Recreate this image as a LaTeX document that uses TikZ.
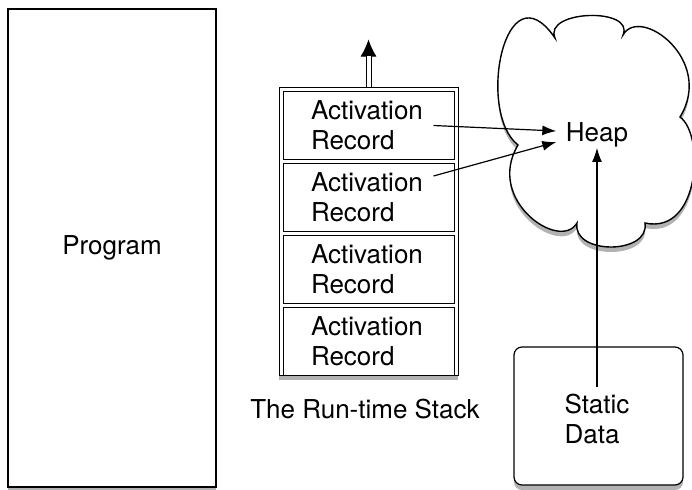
\documentclass[tikz,border=0pt]{standalone}
\usepackage{fontspec}
\setmainfont{TeX Gyre Heros}
\usetikzlibrary{calc, positioning, arrows.meta, shadows}

\begin{document}
\begin{tikzpicture}[x=0.5pt, y=-0.5pt, line width=0.6pt, >={Latex[length=7pt, width=5pt]},
        font=\fontsize{13}{15}\selectfont,
        softshadow/.style={drop shadow={shadow xshift=0pt, shadow yshift=-2.5pt, opacity=0.3, fill=black}},
        record/.style={draw, fill=white, line width=0.5pt, minimum width=85.5pt, minimum height=34pt,
            inner xsep=14pt, inner ysep=0pt, text width=57.5pt, align=left}]
        \useasboundingbox (0,0) rectangle (692,489);

        \node[draw, fill=white, softshadow, line width=0.9pt, minimum width=104pt, minimum height=239pt] (prog) at (112,248) {Program};

        % the stack of records
        \node[draw, fill=white, softshadow, line width=0.5pt, minimum width=89.5pt, minimum height=144pt] (stack) at (368.5,231) {};
        \node[record, below=2.25pt of stack.north] (rec1) {Activation\\Record};
        \node[record, below=1.5pt of rec1] (rec2) {Activation\\Record};
        \node[record, below=1.5pt of rec2] (rec3) {Activation\\Record};
        \node[record, below=1.5pt of rec3] (rec4) {Activation\\Record};
        \node[below=8pt of stack, xshift=-1.75pt] (stacklbl) {The Run-time Stack};

        \coordinate (push) at ($(stack.north)+(0,-47)$);
        \draw[line width=0.5pt, -{Latex[length=8.5pt, width=8pt]}] (stack.north) -- (push);
        \draw[double, double distance=2pt, line width=0.5pt, shorten >=8pt] (stack.north) -- (push);

        % heap cloud
        \draw[fill=white, softshadow, line width=0.7pt] (518,145)
            .. controls (476,112) and (505,-35) .. (555,38)
            .. controls (543,10) and (635,7) .. (623,35)
            .. controls (640,5) and (715,60) .. (680,117)
            .. controls (705,135) and (700,235) .. (645,223)
            .. controls (650,255) and (572,255) .. (577,223)
            .. controls (560,252) and (485,200) .. (518,145) -- cycle;
        \node[inner xsep=4.5pt, inner ysep=0pt] (heap) at (597,135) {Heap};

        % static data
        \node[draw, fill=white, softshadow, rounded corners=4pt, minimum width=84.5pt, minimum height=69pt] (sdbox) at (598.5,416) {};
        \node[align=left] (sd) at (597,419) {Static\\Data};

        \draw[->] ($(rec1.east)+(-21,0)$) -- ($(heap.west)+(0,-4)$);
        \draw[->] ($(rec2.east)+(-21,-21.5)$) -- ($(heap.west)+(0,7)$);
        \draw[->] (sd.north) -- (heap.south);
    \end{tikzpicture}
\end{document}
